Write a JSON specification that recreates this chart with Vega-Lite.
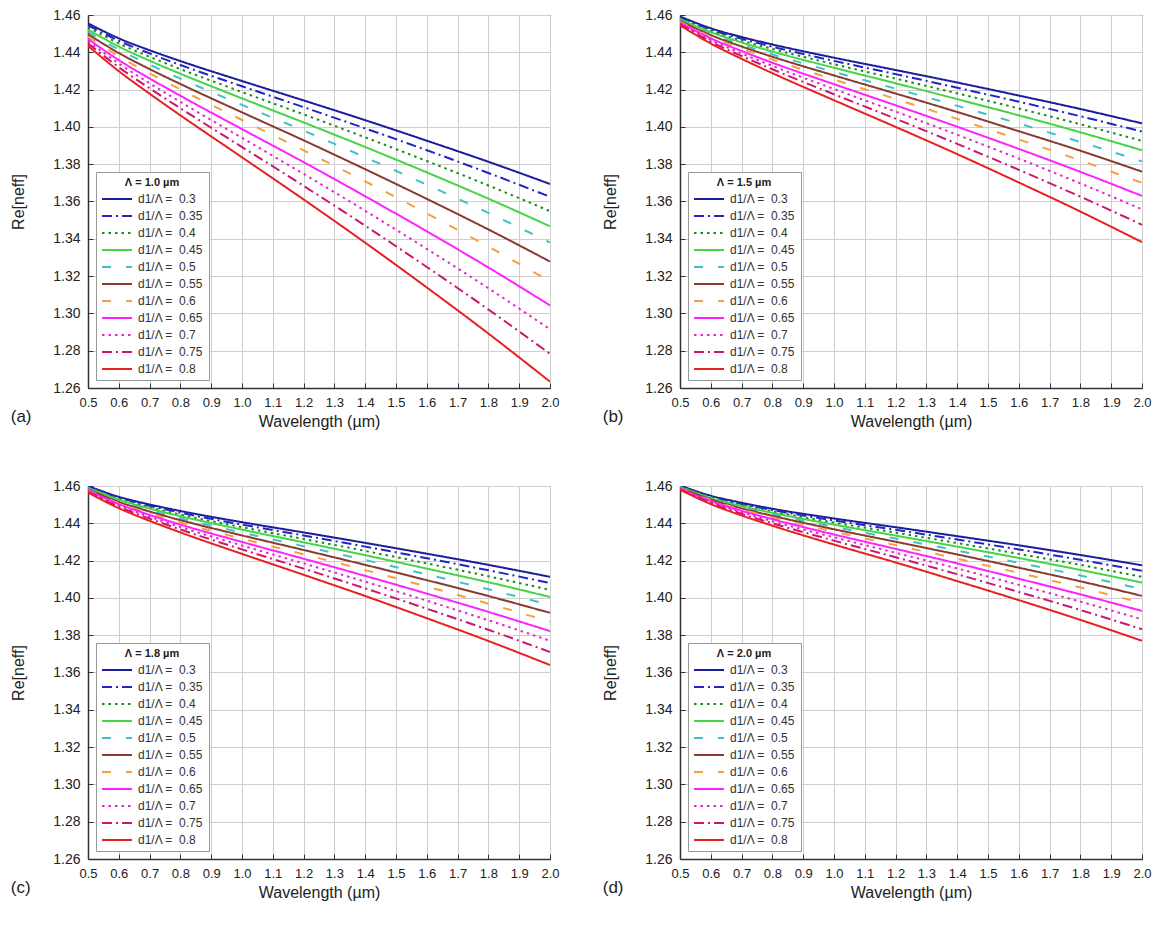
{
"$schema": "https://vega.github.io/schema/vega-lite/v6.json",
"background": "white",
"padding": {"left": 10, "top": 7, "right": 5, "bottom": 5},
"datasets": {
"a": [
{"d":0.3,"w":0.5,"n":1.4555},{"d":0.3,"w":0.6,"n":1.4475},{"d":0.3,"w":0.7,"n":1.4411},{"d":0.3,"w":0.8,"n":1.4353},{"d":0.3,"w":1.0,"n":1.4246},{"d":0.3,"w":1.2,"n":1.4142},{"d":0.3,"w":1.4,"n":1.4036},{"d":0.3,"w":1.6,"n":1.3926},{"d":0.3,"w":1.8,"n":1.3813},{"d":0.3,"w":2.0,"n":1.3694},
{"d":0.35,"w":0.5,"n":1.4545},{"d":0.35,"w":0.6,"n":1.4462},{"d":0.35,"w":0.7,"n":1.4394},{"d":0.35,"w":0.8,"n":1.4332},{"d":0.35,"w":1.0,"n":1.4218},{"d":0.35,"w":1.2,"n":1.4106},{"d":0.35,"w":1.4,"n":1.3992},{"d":0.35,"w":1.6,"n":1.3875},{"d":0.35,"w":1.8,"n":1.3753},{"d":0.35,"w":2.0,"n":1.3625},
{"d":0.4,"w":0.5,"n":1.4535},{"d":0.4,"w":0.6,"n":1.4448},{"d":0.4,"w":0.7,"n":1.4376},{"d":0.4,"w":0.8,"n":1.4310},{"d":0.4,"w":1.0,"n":1.4187},{"d":0.4,"w":1.2,"n":1.4067},{"d":0.4,"w":1.4,"n":1.3944},{"d":0.4,"w":1.6,"n":1.3817},{"d":0.4,"w":1.8,"n":1.3686},{"d":0.4,"w":2.0,"n":1.3548},
{"d":0.45,"w":0.5,"n":1.4522},{"d":0.45,"w":0.6,"n":1.4431},{"d":0.45,"w":0.7,"n":1.4355},{"d":0.45,"w":0.8,"n":1.4285},{"d":0.45,"w":1.0,"n":1.4153},{"d":0.45,"w":1.2,"n":1.4024},{"d":0.45,"w":1.4,"n":1.3892},{"d":0.45,"w":1.6,"n":1.3756},{"d":0.45,"w":1.8,"n":1.3615},{"d":0.45,"w":2.0,"n":1.3467},
{"d":0.5,"w":0.5,"n":1.4510},{"d":0.5,"w":0.6,"n":1.4414},{"d":0.5,"w":0.7,"n":1.4334},{"d":0.5,"w":0.8,"n":1.4259},{"d":0.5,"w":1.0,"n":1.4118},{"d":0.5,"w":1.2,"n":1.3980},{"d":0.5,"w":1.4,"n":1.3837},{"d":0.5,"w":1.6,"n":1.3690},{"d":0.5,"w":1.8,"n":1.3539},{"d":0.5,"w":2.0,"n":1.3380},
{"d":0.55,"w":0.5,"n":1.4497},{"d":0.55,"w":0.6,"n":1.4396},{"d":0.55,"w":0.7,"n":1.4310},{"d":0.55,"w":0.8,"n":1.4230},{"d":0.55,"w":1.0,"n":1.4078},{"d":0.55,"w":1.2,"n":1.3928},{"d":0.55,"w":1.4,"n":1.3773},{"d":0.55,"w":1.6,"n":1.3614},{"d":0.55,"w":1.8,"n":1.3450},{"d":0.55,"w":2.0,"n":1.3278},
{"d":0.6,"w":0.5,"n":1.4485},{"d":0.6,"w":0.6,"n":1.4378},{"d":0.6,"w":0.7,"n":1.4287},{"d":0.6,"w":0.8,"n":1.4201},{"d":0.6,"w":1.0,"n":1.4037},{"d":0.6,"w":1.2,"n":1.3874},{"d":0.6,"w":1.4,"n":1.3708},{"d":0.6,"w":1.6,"n":1.3536},{"d":0.6,"w":1.8,"n":1.3358},{"d":0.6,"w":2.0,"n":1.3172},
{"d":0.65,"w":0.5,"n":1.4472},{"d":0.65,"w":0.6,"n":1.4358},{"d":0.65,"w":0.7,"n":1.4260},{"d":0.65,"w":0.8,"n":1.4167},{"d":0.65,"w":1.0,"n":1.3988},{"d":0.65,"w":1.2,"n":1.3811},{"d":0.65,"w":1.4,"n":1.3628},{"d":0.65,"w":1.6,"n":1.3440},{"d":0.65,"w":1.8,"n":1.3246},{"d":0.65,"w":2.0,"n":1.3043},
{"d":0.7,"w":0.5,"n":1.4460},{"d":0.7,"w":0.6,"n":1.4340},{"d":0.7,"w":0.7,"n":1.4234},{"d":0.7,"w":0.8,"n":1.4134},{"d":0.7,"w":1.0,"n":1.3941},{"d":0.7,"w":1.2,"n":1.3748},{"d":0.7,"w":1.4,"n":1.3550},{"d":0.7,"w":1.6,"n":1.3346},{"d":0.7,"w":1.8,"n":1.3135},{"d":0.7,"w":2.0,"n":1.2915},
{"d":0.75,"w":0.5,"n":1.4448},{"d":0.75,"w":0.6,"n":1.4320},{"d":0.75,"w":0.7,"n":1.4207},{"d":0.75,"w":0.8,"n":1.4100},{"d":0.75,"w":1.0,"n":1.3892},{"d":0.75,"w":1.2,"n":1.3684},{"d":0.75,"w":1.4,"n":1.3470},{"d":0.75,"w":1.6,"n":1.3249},{"d":0.75,"w":1.8,"n":1.3021},{"d":0.75,"w":2.0,"n":1.2783},
{"d":0.8,"w":0.5,"n":1.4435},{"d":0.8,"w":0.6,"n":1.4299},{"d":0.8,"w":0.7,"n":1.4178},{"d":0.8,"w":0.8,"n":1.4062},{"d":0.8,"w":1.0,"n":1.3837},{"d":0.8,"w":1.2,"n":1.3611},{"d":0.8,"w":1.4,"n":1.3379},{"d":0.8,"w":1.6,"n":1.3139},{"d":0.8,"w":1.8,"n":1.2892},{"d":0.8,"w":2.0,"n":1.2634}
],
"b": [
{"d":0.3,"w":0.5,"n":1.4592},{"d":0.3,"w":0.6,"n":1.4529},{"d":0.3,"w":0.7,"n":1.4482},{"d":0.3,"w":0.8,"n":1.4442},{"d":0.3,"w":1.0,"n":1.4371},{"d":0.3,"w":1.2,"n":1.4305},{"d":0.3,"w":1.4,"n":1.4238},{"d":0.3,"w":1.6,"n":1.4168},{"d":0.3,"w":1.8,"n":1.4096},{"d":0.3,"w":2.0,"n":1.4019},
{"d":0.35,"w":0.5,"n":1.4587},{"d":0.35,"w":0.6,"n":1.4522},{"d":0.35,"w":0.7,"n":1.4473},{"d":0.35,"w":0.8,"n":1.4430},{"d":0.35,"w":1.0,"n":1.4354},{"d":0.35,"w":1.2,"n":1.4283},{"d":0.35,"w":1.4,"n":1.4210},{"d":0.35,"w":1.6,"n":1.4135},{"d":0.35,"w":1.8,"n":1.4057},{"d":0.35,"w":2.0,"n":1.3975},
{"d":0.4,"w":0.5,"n":1.4583},{"d":0.4,"w":0.6,"n":1.4515},{"d":0.4,"w":0.7,"n":1.4463},{"d":0.4,"w":0.8,"n":1.4418},{"d":0.4,"w":1.0,"n":1.4336},{"d":0.4,"w":1.2,"n":1.4259},{"d":0.4,"w":1.4,"n":1.4180},{"d":0.4,"w":1.6,"n":1.4099},{"d":0.4,"w":1.8,"n":1.4014},{"d":0.4,"w":2.0,"n":1.3925},
{"d":0.45,"w":0.5,"n":1.4578},{"d":0.45,"w":0.6,"n":1.4508},{"d":0.45,"w":0.7,"n":1.4453},{"d":0.45,"w":0.8,"n":1.4404},{"d":0.45,"w":1.0,"n":1.4317},{"d":0.45,"w":1.2,"n":1.4234},{"d":0.45,"w":1.4,"n":1.4149},{"d":0.45,"w":1.6,"n":1.4062},{"d":0.45,"w":1.8,"n":1.3971},{"d":0.45,"w":2.0,"n":1.3875},
{"d":0.5,"w":0.5,"n":1.4573},{"d":0.5,"w":0.6,"n":1.4499},{"d":0.5,"w":0.7,"n":1.4441},{"d":0.5,"w":0.8,"n":1.4389},{"d":0.5,"w":1.0,"n":1.4295},{"d":0.5,"w":1.2,"n":1.4205},{"d":0.5,"w":1.4,"n":1.4113},{"d":0.5,"w":1.6,"n":1.4018},{"d":0.5,"w":1.8,"n":1.3919},{"d":0.5,"w":2.0,"n":1.3815},
{"d":0.55,"w":0.5,"n":1.4569},{"d":0.55,"w":0.6,"n":1.4492},{"d":0.55,"w":0.7,"n":1.4431},{"d":0.55,"w":0.8,"n":1.4376},{"d":0.55,"w":1.0,"n":1.4276},{"d":0.55,"w":1.2,"n":1.4179},{"d":0.55,"w":1.4,"n":1.4080},{"d":0.55,"w":1.6,"n":1.3977},{"d":0.55,"w":1.8,"n":1.3872},{"d":0.55,"w":2.0,"n":1.3760},
{"d":0.6,"w":0.5,"n":1.4564},{"d":0.6,"w":0.6,"n":1.4484},{"d":0.6,"w":0.7,"n":1.4419},{"d":0.6,"w":0.8,"n":1.4361},{"d":0.6,"w":1.0,"n":1.4254},{"d":0.6,"w":1.2,"n":1.4150},{"d":0.6,"w":1.4,"n":1.4043},{"d":0.6,"w":1.6,"n":1.3933},{"d":0.6,"w":1.8,"n":1.3820},{"d":0.6,"w":2.0,"n":1.3700},
{"d":0.65,"w":0.5,"n":1.4559},{"d":0.65,"w":0.6,"n":1.4475},{"d":0.65,"w":0.7,"n":1.4407},{"d":0.65,"w":0.8,"n":1.4344},{"d":0.65,"w":1.0,"n":1.4229},{"d":0.65,"w":1.2,"n":1.4116},{"d":0.65,"w":1.4,"n":1.4001},{"d":0.65,"w":1.6,"n":1.3882},{"d":0.65,"w":1.8,"n":1.3759},{"d":0.65,"w":2.0,"n":1.3630},
{"d":0.7,"w":0.5,"n":1.4554},{"d":0.7,"w":0.6,"n":1.4466},{"d":0.7,"w":0.7,"n":1.4394},{"d":0.7,"w":0.8,"n":1.4327},{"d":0.7,"w":1.0,"n":1.4203},{"d":0.7,"w":1.2,"n":1.4082},{"d":0.7,"w":1.4,"n":1.3958},{"d":0.7,"w":1.6,"n":1.3830},{"d":0.7,"w":1.8,"n":1.3697},{"d":0.7,"w":2.0,"n":1.3558},
{"d":0.75,"w":0.5,"n":1.4550},{"d":0.75,"w":0.6,"n":1.4457},{"d":0.75,"w":0.7,"n":1.4380},{"d":0.75,"w":0.8,"n":1.4309},{"d":0.75,"w":1.0,"n":1.4175},{"d":0.75,"w":1.2,"n":1.4044},{"d":0.75,"w":1.4,"n":1.3909},{"d":0.75,"w":1.6,"n":1.3770},{"d":0.75,"w":1.8,"n":1.3626},{"d":0.75,"w":2.0,"n":1.3475},
{"d":0.8,"w":0.5,"n":1.4545},{"d":0.8,"w":0.6,"n":1.4447},{"d":0.8,"w":0.7,"n":1.4365},{"d":0.8,"w":0.8,"n":1.4288},{"d":0.8,"w":1.0,"n":1.4143},{"d":0.8,"w":1.2,"n":1.4000},{"d":0.8,"w":1.4,"n":1.3854},{"d":0.8,"w":1.6,"n":1.3702},{"d":0.8,"w":1.8,"n":1.3546},{"d":0.8,"w":2.0,"n":1.3382}
],
"c": [
{"d":0.3,"w":0.5,"n":1.4600},{"d":0.3,"w":0.6,"n":1.4542},{"d":0.3,"w":0.7,"n":1.4501},{"d":0.3,"w":0.8,"n":1.4466},{"d":0.3,"w":1.0,"n":1.4406},{"d":0.3,"w":1.2,"n":1.4351},{"d":0.3,"w":1.4,"n":1.4295},{"d":0.3,"w":1.6,"n":1.4237},{"d":0.3,"w":1.8,"n":1.4177},{"d":0.3,"w":2.0,"n":1.4113},
{"d":0.35,"w":0.5,"n":1.4597},{"d":0.35,"w":0.6,"n":1.4538},{"d":0.35,"w":0.7,"n":1.4494},{"d":0.35,"w":0.8,"n":1.4457},{"d":0.35,"w":1.0,"n":1.4393},{"d":0.35,"w":1.2,"n":1.4335},{"d":0.35,"w":1.4,"n":1.4275},{"d":0.35,"w":1.6,"n":1.4213},{"d":0.35,"w":1.8,"n":1.4148},{"d":0.35,"w":2.0,"n":1.4080},
{"d":0.4,"w":0.5,"n":1.4593},{"d":0.4,"w":0.6,"n":1.4532},{"d":0.4,"w":0.7,"n":1.4486},{"d":0.4,"w":0.8,"n":1.4447},{"d":0.4,"w":1.0,"n":1.4379},{"d":0.4,"w":1.2,"n":1.4316},{"d":0.4,"w":1.4,"n":1.4252},{"d":0.4,"w":1.6,"n":1.4185},{"d":0.4,"w":1.8,"n":1.4116},{"d":0.4,"w":2.0,"n":1.4043},
{"d":0.45,"w":0.5,"n":1.4590},{"d":0.45,"w":0.6,"n":1.4527},{"d":0.45,"w":0.7,"n":1.4479},{"d":0.45,"w":0.8,"n":1.4438},{"d":0.45,"w":1.0,"n":1.4366},{"d":0.45,"w":1.2,"n":1.4298},{"d":0.45,"w":1.4,"n":1.4229},{"d":0.45,"w":1.6,"n":1.4157},{"d":0.45,"w":1.8,"n":1.4084},{"d":0.45,"w":2.0,"n":1.4005},
{"d":0.5,"w":0.5,"n":1.4586},{"d":0.5,"w":0.6,"n":1.4520},{"d":0.5,"w":0.7,"n":1.4470},{"d":0.5,"w":0.8,"n":1.4427},{"d":0.5,"w":1.0,"n":1.4350},{"d":0.5,"w":1.2,"n":1.4277},{"d":0.5,"w":1.4,"n":1.4203},{"d":0.5,"w":1.6,"n":1.4126},{"d":0.5,"w":1.8,"n":1.4046},{"d":0.5,"w":2.0,"n":1.3962},
{"d":0.55,"w":0.5,"n":1.4583},{"d":0.55,"w":0.6,"n":1.4515},{"d":0.55,"w":0.7,"n":1.4463},{"d":0.55,"w":0.8,"n":1.4417},{"d":0.55,"w":1.0,"n":1.4335},{"d":0.55,"w":1.2,"n":1.4257},{"d":0.55,"w":1.4,"n":1.4177},{"d":0.55,"w":1.6,"n":1.4095},{"d":0.55,"w":1.8,"n":1.4010},{"d":0.55,"w":2.0,"n":1.3920},
{"d":0.6,"w":0.5,"n":1.4579},{"d":0.6,"w":0.6,"n":1.4508},{"d":0.6,"w":0.7,"n":1.4453},{"d":0.6,"w":0.8,"n":1.4405},{"d":0.6,"w":1.0,"n":1.4317},{"d":0.6,"w":1.2,"n":1.4234},{"d":0.6,"w":1.4,"n":1.4149},{"d":0.6,"w":1.6,"n":1.4061},{"d":0.6,"w":1.8,"n":1.3969},{"d":0.6,"w":2.0,"n":1.3873},
{"d":0.65,"w":0.5,"n":1.4576},{"d":0.65,"w":0.6,"n":1.4503},{"d":0.65,"w":0.7,"n":1.4445},{"d":0.65,"w":0.8,"n":1.4393},{"d":0.65,"w":1.0,"n":1.4300},{"d":0.65,"w":1.2,"n":1.4210},{"d":0.65,"w":1.4,"n":1.4118},{"d":0.65,"w":1.6,"n":1.4023},{"d":0.65,"w":1.8,"n":1.3925},{"d":0.65,"w":2.0,"n":1.3822},
{"d":0.7,"w":0.5,"n":1.4572},{"d":0.7,"w":0.6,"n":1.4496},{"d":0.7,"w":0.7,"n":1.4435},{"d":0.7,"w":0.8,"n":1.4380},{"d":0.7,"w":1.0,"n":1.4281},{"d":0.7,"w":1.2,"n":1.4185},{"d":0.7,"w":1.4,"n":1.4087},{"d":0.7,"w":1.6,"n":1.3985},{"d":0.7,"w":1.8,"n":1.3880},{"d":0.7,"w":2.0,"n":1.3770},
{"d":0.75,"w":0.5,"n":1.4569},{"d":0.75,"w":0.6,"n":1.4489},{"d":0.75,"w":0.7,"n":1.4425},{"d":0.75,"w":0.8,"n":1.4367},{"d":0.75,"w":1.0,"n":1.4260},{"d":0.75,"w":1.2,"n":1.4157},{"d":0.75,"w":1.4,"n":1.4051},{"d":0.75,"w":1.6,"n":1.3942},{"d":0.75,"w":1.8,"n":1.3829},{"d":0.75,"w":2.0,"n":1.3710},
{"d":0.8,"w":0.5,"n":1.4565},{"d":0.8,"w":0.6,"n":1.4481},{"d":0.8,"w":0.7,"n":1.4413},{"d":0.8,"w":0.8,"n":1.4351},{"d":0.8,"w":1.0,"n":1.4236},{"d":0.8,"w":1.2,"n":1.4124},{"d":0.8,"w":1.4,"n":1.4010},{"d":0.8,"w":1.6,"n":1.3891},{"d":0.8,"w":1.8,"n":1.3769},{"d":0.8,"w":2.0,"n":1.3640}
],
"d": [
{"d":0.3,"w":0.5,"n":1.4602},{"d":0.3,"w":0.6,"n":1.4548},{"d":0.3,"w":0.7,"n":1.4510},{"d":0.3,"w":0.8,"n":1.4478},{"d":0.3,"w":1.0,"n":1.4426},{"d":0.3,"w":1.2,"n":1.4379},{"d":0.3,"w":1.4,"n":1.4331},{"d":0.3,"w":1.6,"n":1.4282},{"d":0.3,"w":1.8,"n":1.4230},{"d":0.3,"w":2.0,"n":1.4175},
{"d":0.35,"w":0.5,"n":1.4600},{"d":0.35,"w":0.6,"n":1.4544},{"d":0.35,"w":0.7,"n":1.4504},{"d":0.35,"w":0.8,"n":1.4471},{"d":0.35,"w":1.0,"n":1.4415},{"d":0.35,"w":1.2,"n":1.4365},{"d":0.35,"w":1.4,"n":1.4313},{"d":0.35,"w":1.6,"n":1.4260},{"d":0.35,"w":1.8,"n":1.4204},{"d":0.35,"w":2.0,"n":1.4145},
{"d":0.4,"w":0.5,"n":1.4598},{"d":0.4,"w":0.6,"n":1.4541},{"d":0.4,"w":0.7,"n":1.4499},{"d":0.4,"w":0.8,"n":1.4464},{"d":0.4,"w":1.0,"n":1.4404},{"d":0.4,"w":1.2,"n":1.4350},{"d":0.4,"w":1.4,"n":1.4294},{"d":0.4,"w":1.6,"n":1.4236},{"d":0.4,"w":1.8,"n":1.4177},{"d":0.4,"w":2.0,"n":1.4113},
{"d":0.45,"w":0.5,"n":1.4595},{"d":0.45,"w":0.6,"n":1.4536},{"d":0.45,"w":0.7,"n":1.4492},{"d":0.45,"w":0.8,"n":1.4456},{"d":0.45,"w":1.0,"n":1.4393},{"d":0.45,"w":1.2,"n":1.4334},{"d":0.45,"w":1.4,"n":1.4275},{"d":0.45,"w":1.6,"n":1.4214},{"d":0.45,"w":1.8,"n":1.4150},{"d":0.45,"w":2.0,"n":1.4082},
{"d":0.5,"w":0.5,"n":1.4593},{"d":0.5,"w":0.6,"n":1.4532},{"d":0.5,"w":0.7,"n":1.4487},{"d":0.5,"w":0.8,"n":1.4448},{"d":0.5,"w":1.0,"n":1.4381},{"d":0.5,"w":1.2,"n":1.4318},{"d":0.5,"w":1.4,"n":1.4254},{"d":0.5,"w":1.6,"n":1.4188},{"d":0.5,"w":1.8,"n":1.4120},{"d":0.5,"w":2.0,"n":1.4047},
{"d":0.55,"w":0.5,"n":1.4591},{"d":0.55,"w":0.6,"n":1.4528},{"d":0.55,"w":0.7,"n":1.4480},{"d":0.55,"w":0.8,"n":1.4440},{"d":0.55,"w":1.0,"n":1.4368},{"d":0.55,"w":1.2,"n":1.4301},{"d":0.55,"w":1.4,"n":1.4233},{"d":0.55,"w":1.6,"n":1.4162},{"d":0.55,"w":1.8,"n":1.4089},{"d":0.55,"w":2.0,"n":1.4011},
{"d":0.6,"w":0.5,"n":1.4589},{"d":0.6,"w":0.6,"n":1.4524},{"d":0.6,"w":0.7,"n":1.4474},{"d":0.6,"w":0.8,"n":1.4431},{"d":0.6,"w":1.0,"n":1.4355},{"d":0.6,"w":1.2,"n":1.4283},{"d":0.6,"w":1.4,"n":1.4210},{"d":0.6,"w":1.6,"n":1.4134},{"d":0.6,"w":1.8,"n":1.4056},{"d":0.6,"w":2.0,"n":1.3973},
{"d":0.65,"w":0.5,"n":1.4587},{"d":0.65,"w":0.6,"n":1.4519},{"d":0.65,"w":0.7,"n":1.4467},{"d":0.65,"w":0.8,"n":1.4422},{"d":0.65,"w":1.0,"n":1.4340},{"d":0.65,"w":1.2,"n":1.4263},{"d":0.65,"w":1.4,"n":1.4185},{"d":0.65,"w":1.6,"n":1.4103},{"d":0.65,"w":1.8,"n":1.4019},{"d":0.65,"w":2.0,"n":1.3930},
{"d":0.7,"w":0.5,"n":1.4584},{"d":0.7,"w":0.6,"n":1.4514},{"d":0.7,"w":0.7,"n":1.4459},{"d":0.7,"w":0.8,"n":1.4411},{"d":0.7,"w":1.0,"n":1.4325},{"d":0.7,"w":1.2,"n":1.4242},{"d":0.7,"w":1.4,"n":1.4158},{"d":0.7,"w":1.6,"n":1.4070},{"d":0.7,"w":1.8,"n":1.3980},{"d":0.7,"w":2.0,"n":1.3885},
{"d":0.75,"w":0.5,"n":1.4582},{"d":0.75,"w":0.6,"n":1.4509},{"d":0.75,"w":0.7,"n":1.4451},{"d":0.75,"w":0.8,"n":1.4400},{"d":0.75,"w":1.0,"n":1.4307},{"d":0.75,"w":1.2,"n":1.4218},{"d":0.75,"w":1.4,"n":1.4127},{"d":0.75,"w":1.6,"n":1.4032},{"d":0.75,"w":1.8,"n":1.3935},{"d":0.75,"w":2.0,"n":1.3832},
{"d":0.8,"w":0.5,"n":1.4580},{"d":0.8,"w":0.6,"n":1.4503},{"d":0.8,"w":0.7,"n":1.4442},{"d":0.8,"w":0.8,"n":1.4387},{"d":0.8,"w":1.0,"n":1.4286},{"d":0.8,"w":1.2,"n":1.4190},{"d":0.8,"w":1.4,"n":1.4090},{"d":0.8,"w":1.6,"n":1.3988},{"d":0.8,"w":1.8,"n":1.3882},{"d":0.8,"w":2.0,"n":1.3770}
]
},
"columns": 2,
"spacing": {"row": 48, "column": 42},
"resolve": {"scale": {"color": "independent", "strokeDash": "independent"}, "legend": {"color": "independent", "strokeDash": "independent"}},
"concat": [
{"width": 462, "height": 373, "data": {"name": "a"},
 "title": {"text": "(a)"},
 "mark": {"type": "line", "strokeWidth": 2, "clip": true, "interpolate": "monotone"},
 "encoding": {
  "x": {"field": "w", "type": "quantitative", "scale": {"domain": [0.5, 2.0], "nice": false, "zero": false}, "axis": {"values": [0.5,0.6,0.7,0.8,0.9,1.0,1.1,1.2,1.3,1.4,1.5,1.6,1.7,1.8,1.9,2.0], "format": ".1f", "title": "Wavelength (µm)"}},
  "y": {"field": "n", "type": "quantitative", "scale": {"domain": [1.26, 1.46], "nice": false, "zero": false}, "axis": {"values": [1.26,1.28,1.30,1.32,1.34,1.36,1.38,1.40,1.42,1.44,1.46], "format": ".2f", "title": "Re[neff]"}},
  "color": {"field": "d", "type": "nominal", "scale": {"domain": [0.3,0.35,0.4,0.45,0.5,0.55,0.6,0.65,0.7,0.75,0.8], "range": ["#1c1c9c","#2424c8","#1a8a1a","#44d444","#40c0c8","#8b3a2e","#f5a040","#ff22ff","#ee22cc","#cc1670","#e82020"]}, "legend": {"title": "Λ = 1.0 µm", "labelExpr": "'d1/Λ = \u00a0' + datum.label"}},
  "strokeDash": {"field": "d", "type": "nominal", "scale": {"domain": [0.3,0.35,0.4,0.45,0.5,0.55,0.6,0.65,0.7,0.75,0.8], "range": [[1,0],[10,4,2,4],[2.5,4],[1,0],[9,15],[1,0],[9,15],[1,0],[2.5,4],[10,4,2,4],[1,0]]}, "legend": {"title": "Λ = 1.0 µm", "labelExpr": "'d1/Λ = \u00a0' + datum.label"}}
 }},
{"width": 462, "height": 373, "data": {"name": "b"},
 "title": {"text": "(b)"},
 "mark": {"type": "line", "strokeWidth": 2, "clip": true, "interpolate": "monotone"},
 "encoding": {
  "x": {"field": "w", "type": "quantitative", "scale": {"domain": [0.5, 2.0], "nice": false, "zero": false}, "axis": {"values": [0.5,0.6,0.7,0.8,0.9,1.0,1.1,1.2,1.3,1.4,1.5,1.6,1.7,1.8,1.9,2.0], "format": ".1f", "title": "Wavelength (µm)"}},
  "y": {"field": "n", "type": "quantitative", "scale": {"domain": [1.26, 1.46], "nice": false, "zero": false}, "axis": {"values": [1.26,1.28,1.30,1.32,1.34,1.36,1.38,1.40,1.42,1.44,1.46], "format": ".2f", "title": "Re[neff]"}},
  "color": {"field": "d", "type": "nominal", "scale": {"domain": [0.3,0.35,0.4,0.45,0.5,0.55,0.6,0.65,0.7,0.75,0.8], "range": ["#1c1c9c","#2424c8","#1a8a1a","#44d444","#40c0c8","#8b3a2e","#f5a040","#ff22ff","#ee22cc","#cc1670","#e82020"]}, "legend": {"title": "Λ = 1.5 µm", "labelExpr": "'d1/Λ = \u00a0' + datum.label"}},
  "strokeDash": {"field": "d", "type": "nominal", "scale": {"domain": [0.3,0.35,0.4,0.45,0.5,0.55,0.6,0.65,0.7,0.75,0.8], "range": [[1,0],[10,4,2,4],[2.5,4],[1,0],[9,15],[1,0],[9,15],[1,0],[2.5,4],[10,4,2,4],[1,0]]}, "legend": {"title": "Λ = 1.5 µm", "labelExpr": "'d1/Λ = \u00a0' + datum.label"}}
 }},
{"width": 462, "height": 373, "data": {"name": "c"},
 "title": {"text": "(c)"},
 "mark": {"type": "line", "strokeWidth": 2, "clip": true, "interpolate": "monotone"},
 "encoding": {
  "x": {"field": "w", "type": "quantitative", "scale": {"domain": [0.5, 2.0], "nice": false, "zero": false}, "axis": {"values": [0.5,0.6,0.7,0.8,0.9,1.0,1.1,1.2,1.3,1.4,1.5,1.6,1.7,1.8,1.9,2.0], "format": ".1f", "title": "Wavelength (µm)"}},
  "y": {"field": "n", "type": "quantitative", "scale": {"domain": [1.26, 1.46], "nice": false, "zero": false}, "axis": {"values": [1.26,1.28,1.30,1.32,1.34,1.36,1.38,1.40,1.42,1.44,1.46], "format": ".2f", "title": "Re[neff]"}},
  "color": {"field": "d", "type": "nominal", "scale": {"domain": [0.3,0.35,0.4,0.45,0.5,0.55,0.6,0.65,0.7,0.75,0.8], "range": ["#1c1c9c","#2424c8","#1a8a1a","#44d444","#40c0c8","#8b3a2e","#f5a040","#ff22ff","#ee22cc","#cc1670","#e82020"]}, "legend": {"title": "Λ = 1.8 µm", "labelExpr": "'d1/Λ = \u00a0' + datum.label"}},
  "strokeDash": {"field": "d", "type": "nominal", "scale": {"domain": [0.3,0.35,0.4,0.45,0.5,0.55,0.6,0.65,0.7,0.75,0.8], "range": [[1,0],[10,4,2,4],[2.5,4],[1,0],[9,15],[1,0],[9,15],[1,0],[2.5,4],[10,4,2,4],[1,0]]}, "legend": {"title": "Λ = 1.8 µm", "labelExpr": "'d1/Λ = \u00a0' + datum.label"}}
 }},
{"width": 462, "height": 373, "data": {"name": "d"},
 "title": {"text": "(d)"},
 "mark": {"type": "line", "strokeWidth": 2, "clip": true, "interpolate": "monotone"},
 "encoding": {
  "x": {"field": "w", "type": "quantitative", "scale": {"domain": [0.5, 2.0], "nice": false, "zero": false}, "axis": {"values": [0.5,0.6,0.7,0.8,0.9,1.0,1.1,1.2,1.3,1.4,1.5,1.6,1.7,1.8,1.9,2.0], "format": ".1f", "title": "Wavelength (µm)"}},
  "y": {"field": "n", "type": "quantitative", "scale": {"domain": [1.26, 1.46], "nice": false, "zero": false}, "axis": {"values": [1.26,1.28,1.30,1.32,1.34,1.36,1.38,1.40,1.42,1.44,1.46], "format": ".2f", "title": "Re[neff]"}},
  "color": {"field": "d", "type": "nominal", "scale": {"domain": [0.3,0.35,0.4,0.45,0.5,0.55,0.6,0.65,0.7,0.75,0.8], "range": ["#1c1c9c","#2424c8","#1a8a1a","#44d444","#40c0c8","#8b3a2e","#f5a040","#ff22ff","#ee22cc","#cc1670","#e82020"]}, "legend": {"title": "Λ = 2.0 µm", "labelExpr": "'d1/Λ = \u00a0' + datum.label"}},
  "strokeDash": {"field": "d", "type": "nominal", "scale": {"domain": [0.3,0.35,0.4,0.45,0.5,0.55,0.6,0.65,0.7,0.75,0.8], "range": [[1,0],[10,4,2,4],[2.5,4],[1,0],[9,15],[1,0],[9,15],[1,0],[2.5,4],[10,4,2,4],[1,0]]}, "legend": {"title": "Λ = 2.0 µm", "labelExpr": "'d1/Λ = \u00a0' + datum.label"}}
 }}
],
"config": {
 "font": "Liberation Sans",
 "view": {"stroke": "#333", "strokeWidth": 1},
 "axis": {"domainColor": "#333", "domainWidth": 1.5, "tickColor": "#333", "tickSize": -5, "gridColor": "#cfcfcf", "gridWidth": 1, "labelFont": "Liberation Sans", "labelColor": "#222", "labelFlush": false, "labelOverlap": false, "titleFont": "Liberation Sans", "titleFontSize": 16, "titleFontWeight": "normal", "titleColor": "#222"},
 "axisX": {"titlePadding": 4, "labelPadding": 13, "labelFontSize": 13},
 "axisY": {"titlePadding": 26, "labelPadding": 13, "labelFontSize": 14},
 "legend": {"orient": "bottom-left", "offset": 8, "fillColor": "white", "strokeColor": "#999", "padding": 5, "titleFont": "Liberation Sans", "titleFontSize": 11, "titleFontWeight": "bold", "titleColor": "#222", "titleAnchor": "middle", "titleAlign": "center", "labelFont": "Liberation Sans", "labelFontSize": 12, "labelColor": "#333", "symbolType": "M-1,0H5", "symbolSize": 100, "symbolStrokeWidth": 2, "labelOffset": 25, "rowPadding": 5},
 "title": {"orient": "bottom", "anchor": "start", "offset": -20, "fontSize": 17, "fontWeight": "normal", "font": "Liberation Sans", "color": "#222"}
}
}
